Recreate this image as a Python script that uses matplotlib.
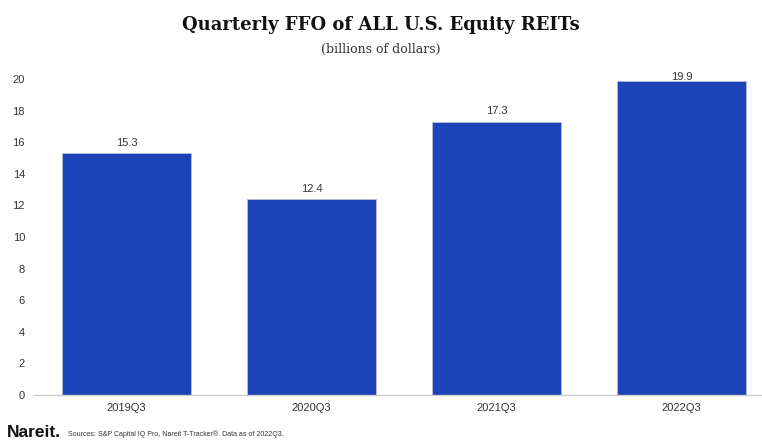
import matplotlib.pyplot as plt

quarters = ["2019Q3", "2020Q3", "2021Q3", "2022Q3"]
ffo = [15.3, 12.4, 17.3, 19.9]
yticks = [0, 2, 4, 6, 8, 10, 12, 14, 16, 18, 20]

plt.rcParams["font.family"] = ["Liberation Sans", "DejaVu Sans"]

W, H = 762, 440
fig = plt.figure(figsize=(W / 100, H / 100), dpi=100)
ax = fig.add_axes([34 / W, 45 / H, 740 / W, 316 / H])

x = range(len(quarters))
bars = ax.bar(x, ffo, width=0.695, color="#1a44b8", edgecolor="#b8c0d8", linewidth=0.6)
for i, v in zip(x, ffo):
    ax.text(i, min(v + 0.65, 20.15), f"{v:.1f}", ha="center", va="center",
            fontsize=8, color="#333333", clip_on=False)

ax.set_xlim(-0.5, len(quarters) - 0.5)
ax.set_ylim(0, 20)
ax.set_xticks(list(x))
ax.set_xticklabels(quarters, fontsize=8, color="#333333")
ax.set_yticks(yticks)
ax.set_yticklabels([str(t) for t in yticks], fontsize=8, color="#333333")
ax.tick_params(length=0)
ax.tick_params(axis="x", pad=6)
ax.tick_params(axis="y", pad=6.5)
for s in ["top", "right", "left"]:
    ax.spines[s].set_visible(False)
ax.spines["bottom"].set_color("#cccccc")
ax.spines["bottom"].set_linewidth(1)

fig.text(0.5, 1 - 25 / H, "Quarterly FFO of ALL U.S. Equity REITs", ha="center", va="center",
         fontsize=13, fontweight="bold", family="DejaVu Serif", color="#111111")
fig.text(0.5, 1 - 49 / H, "(billions of dollars)", ha="center", va="center",
         fontsize=9, family="DejaVu Serif", color="#333333")
fig.text(7 / W, 1 - 432 / H, "Nareit.", ha="left", va="center", fontsize=12.5,
         fontweight="bold", color="#111111")
fig.text(68 / W, 1 - 434 / H, "Sources: S&P Capital IQ Pro, Nareit T-Tracker\u00ae. Data as of 2022Q3.",
         ha="left", va="center", fontsize=5, color="#333333")

fig.savefig("out.png", dpi=100)
